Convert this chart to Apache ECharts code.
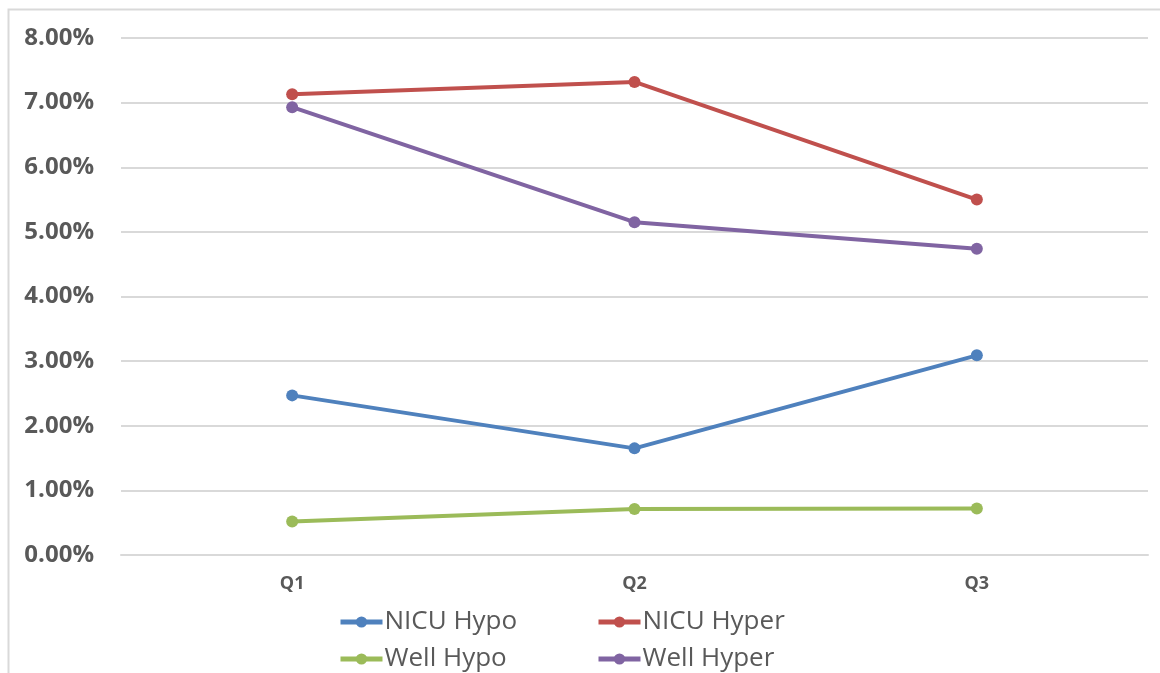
<!DOCTYPE html>
<html>
<head>
<meta charset="utf-8">
<script src="https://cdn.jsdelivr.net/npm/echarts@6/dist/echarts.min.js"></script>
<style>html,body{margin:0;padding:0;background:#fff;}#c{width:1160px;height:673px;}</style>
</head>
<body>
<div id="c"></div>
<script>
const categories = ['Q1', 'Q2', 'Q3'];
const nicuHypo = [2.47, 1.65, 3.09];
const nicuHyper = [7.13, 7.32, 5.50];
const wellHypo = [0.52, 0.71, 0.72];
const wellHyper = [6.93, 5.15, 4.74];
const seriesNames = ['NICU Hypo', 'NICU Hyper', 'Well Hypo', 'Well Hyper'];
const seriesColors = ['#4F81BD', '#C0504D', '#9BBB59', '#8064A2'];
const seriesData = [nicuHypo, nicuHyper, wellHypo, wellHyper];

const chart = echarts.init(document.getElementById('c'));
const font = '"Open Sans", "Liberation Sans", sans-serif';
const legendPos = [[338, 609], [596, 609], [338, 646], [596, 646]];
const legends = seriesNames.map((n, i) => ({
  data: [n],
  left: legendPos[i][0], top: legendPos[i][1],
  padding: 0,
  itemWidth: 42, itemHeight: 14,
  lineStyle: { width: 5 },
  textStyle: { color: '#595959', fontSize: 26, fontFamily: font, padding: [0, 0, 0, -3] }
}));
chart.setOption({
  animation: false,
  color: seriesColors,
  graphic: [{
    type: 'rect', shape: { x: 8.5, y: 9.5, width: 1200, height: 700 },
    style: { fill: 'none', stroke: '#D9D9D9', lineWidth: 2 }
  }],
  grid: { left: 121, right: 12, top: 38, bottom: 118 },
  legend: legends,
  xAxis: {
    type: 'category', data: categories, boundaryGap: true,
    axisLine: { show: true, lineStyle: { color: '#D9D9D9', width: 2 } },
    axisTick: { show: false },
    axisLabel: { color: '#595959', fontSize: 18, fontWeight: 'bold', fontFamily: font, margin: 20 }
  },
  yAxis: {
    type: 'value', min: 0, max: 8, interval: 1,
    axisLine: { show: false }, axisTick: { show: false },
    splitLine: { lineStyle: { color: '#D9D9D9', width: 2 } },
    axisLabel: {
      color: '#595959', fontSize: 24, fontWeight: 'bold', fontFamily: font, margin: 27,
      formatter: v => v.toFixed(2) + '%'
    }
  },
  series: seriesNames.map((n, i) => ({
    name: n, type: 'line', data: seriesData[i],
    symbol: 'circle', symbolSize: 12,
    lineStyle: { width: 4, color: seriesColors[i] },
    itemStyle: { color: seriesColors[i] }
  }))
});
</script>
</body>
</html>
